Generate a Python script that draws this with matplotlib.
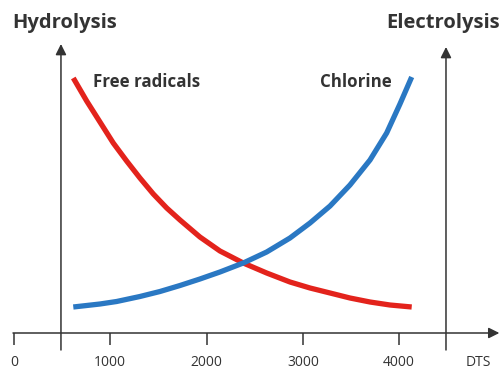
import matplotlib.pyplot as plt

# curve samples: DTS on x, relative level on y
dts = [616, 755, 893, 1031, 1170, 1308, 1447, 1586, 1724, 1931,
       2139, 2381, 2624, 2866, 3074, 3282, 3489, 3697, 3904, 4130]
free_radicals = [255, 232, 211, 190, 172, 155, 139, 125, 113, 96,
                 82, 70, 60, 51, 45, 40, 35, 31, 28, 26]
chlorine_dts = [616, 893, 1066, 1308, 1516, 1724, 1931, 2139, 2381,
                2624, 2866, 3074, 3282, 3489, 3697, 3870, 4008, 4130]
chlorine = [26, 29, 31.5, 36.5, 41.5, 47.5, 54, 61, 70,
            81, 95, 110, 127, 148, 173, 200, 229, 256]

xticks = [0, 1000, 2000, 3000, 4000]
hydrolysis_x = 488
electrolysis_x = 4486

ink = '#333333'
red = '#e3231c'
blue = '#2a78c3'

fig = plt.figure(figsize=(5.03, 3.69), dpi=100)
ax = fig.add_axes([0, 0, 1, 1])
ax.set_xlim(-145, 5078)
ax.set_ylim(-36, 333)
ax.axis('off')

# x axis with arrow
ax.annotate('', xy=(5040, 0), xytext=(-10, 0),
            arrowprops=dict(arrowstyle='-|>', lw=1.1, color=ink,
                            mutation_scale=16, shrinkA=0, shrinkB=0))
for t in xticks:
    ax.plot([t, t], [0, -12], color=ink, lw=1.1, solid_capstyle='butt')
    ax.text(t, -29, str(t), ha='center', va='center', fontsize=10,
            family='Open Sans', color=ink)
ax.text(4818, -29, 'DTS', ha='center', va='center', fontsize=10,
        family='Open Sans', color=ink)

# the two vertical axes
for vx, top in [(hydrolysis_x, 289), (electrolysis_x, 286)]:
    ax.annotate('', xy=(vx, top), xytext=(vx, -17),
                arrowprops=dict(arrowstyle='-|>', lw=1.1, color=ink,
                                mutation_scale=16, shrinkA=0, shrinkB=0))

ax.plot(dts, free_radicals, color=red, lw=3.8, solid_capstyle='butt',
        solid_joinstyle='round')
ax.plot(chlorine_dts, chlorine, color=blue, lw=3.8, solid_capstyle='butt',
        solid_joinstyle='round')

title = dict(fontsize=14.5, fontweight='bold', family='Open Sans', color=ink, va='center')
ax.text(-21, 310, 'Hydrolysis', ha='left', **title)
ax.text(5047, 310, 'Electrolysis', ha='right', **title)
label = dict(fontsize=12.2, fontweight='bold', family='Open Sans', color=ink, va='center')
ax.text(820, 251, 'Free radicals', ha='left', **label)
ax.text(3925, 251, 'Chlorine', ha='right', **label)

fig.savefig('out.png', dpi=100, facecolor='white')
